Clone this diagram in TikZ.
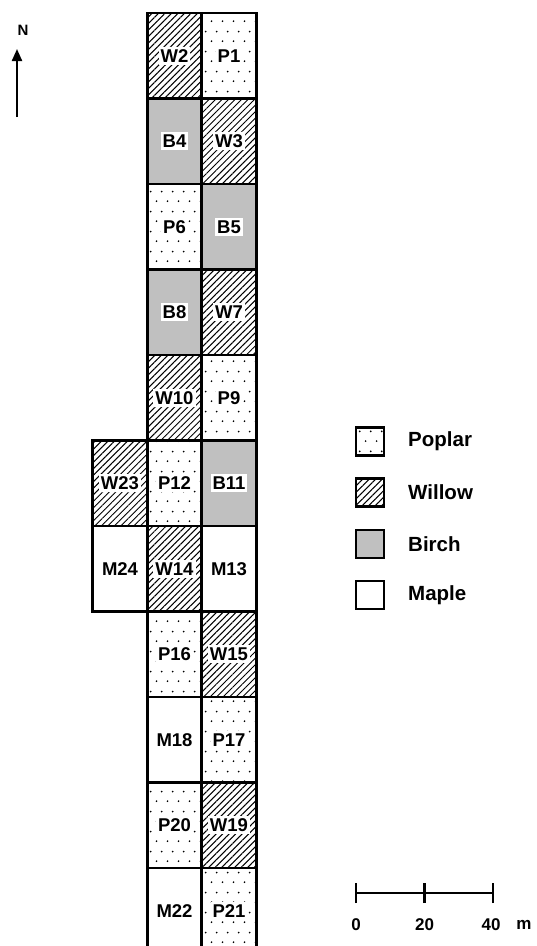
\documentclass[tikz,border=0pt]{standalone}
\usepackage{fontspec}
\setmainfont{Liberation Sans}
\usetikzlibrary{patterns.meta,arrows.meta}
\definecolor{birchgray}{RGB}{192,192,192}
\tikzdeclarepattern{
  name=poplardots,
  type=uncolored,
  bottom left={(0pt,0pt)},
  top right={(11pt,20pt)},
  tile size={(11pt,20pt)},
  code={
    \fill (2.75pt,5pt) circle (1pt);
    \fill (8.25pt,15pt) circle (1pt);
  }
}
\tikzset{
  plotcell/.style={draw=black, line width=2.8pt, minimum width=54.5pt, minimum height=85.5pt, inner sep=0pt, outer sep=0pt},
  poplar/.style={plotcell, pattern=poplardots, pattern color=black},
  willow/.style={plotcell, pattern={Lines[angle=45, distance=4.6pt, line width=1pt]}, pattern color=black},
  birch/.style={plotcell, fill=birchgray},
  maple/.style={plotcell, fill=white},
  lab/.style={fill=white, inner xsep=2pt, inner ysep=2.5pt, font=\bfseries\fontsize{18.5}{18.5}\selectfont},
  legbox/.style={draw=black, line width=2.6pt, minimum width=28pt, minimum height=28pt, inner sep=0pt},
  legtext/.style={anchor=west, inner sep=0pt, font=\bfseries\fontsize{20.5}{20.5}\selectfont},
  scaletext/.style={inner sep=0pt, font=\bfseries\fontsize{17}{17}\selectfont},
  bar/.style={line width=2.6pt},
}
\newcommand\plotcell[4]{%
  \node[#1] (#4) at (#2,{13+85.5*(#3-0.5)}) {};
  \node[lab] (#4-lab) at (#4.center) {#4};}
\begin{document}
\begin{tikzpicture}[x=1pt,y=-1pt]
\useasboundingbox (0,0) rectangle (536,946);
% columns: extra 120, L 174.5, R 229
\plotcell{willow}{174.5}{1}{W2}
\plotcell{poplar}{229}{1}{P1}
\plotcell{birch}{174.5}{2}{B4}
\plotcell{willow}{229}{2}{W3}
\plotcell{poplar}{174.5}{3}{P6}
\plotcell{birch}{229}{3}{B5}
\plotcell{birch}{174.5}{4}{B8}
\plotcell{willow}{229}{4}{W7}
\plotcell{willow}{174.5}{5}{W10}
\plotcell{poplar}{229}{5}{P9}
\plotcell{willow}{120}{6}{W23}
\plotcell{poplar}{174.5}{6}{P12}
\plotcell{birch}{229}{6}{B11}
\plotcell{maple}{120}{7}{M24}
\plotcell{willow}{174.5}{7}{W14}
\plotcell{maple}{229}{7}{M13}
\plotcell{poplar}{174.5}{8}{P16}
\plotcell{willow}{229}{8}{W15}
\plotcell{maple}{174.5}{9}{M18}
\plotcell{poplar}{229}{9}{P17}
\plotcell{poplar}{174.5}{10}{P20}
\plotcell{willow}{229}{10}{W19}
\plotcell{maple}{174.5}{11}{M22}
\plotcell{poplar}{229}{11}{P21}
% north arrow
\node[inner sep=0pt, font=\bfseries\fontsize{15}{15}\selectfont] (north) at (23,30) {N};
\coordinate (nbase) at (17,117);
\coordinate (ntip) at (17,49);
\draw[line width=2.2pt, -{Triangle[length=12pt,width=10pt]}] (nbase) -- (ntip);
% legend
\node[legbox, pattern=poplardots, pattern color=black] (lp) at (370,441.5) {};
\node[legtext] (lpt) at (408,441.5) {Poplar};
\node[legbox, pattern={Lines[angle=45, distance=4.6pt, line width=1pt]}] (lw) at (370,492.5) {};
\node[legtext] (lwt) at (408,492.5) {Willow};
\node[legbox, fill=birchgray] (lb) at (370,544) {};
\node[legtext] (lbt) at (408,544) {Birch};
\node[legbox, fill=white] (lm) at (370,595) {};
\node[legtext] (lmt) at (408,595) {Maple};
% scale bar
\coordinate (s0) at (356,893);
\coordinate (s20) at (424.5,893);
\coordinate (s40) at (493,893);
\draw[bar] (s0) -- (s40);
\draw[bar] ([yshift=-10pt]s0) -- ([yshift=10pt]s0);
\draw[bar] ([yshift=-10pt]s20) -- ([yshift=10pt]s20);
\draw[bar] ([yshift=-10pt]s40) -- ([yshift=10pt]s40);
\node[scaletext] (t0) at (356,925) {0};
\node[scaletext] (t20) at (424.5,925) {20};
\node[scaletext] (t40) at (491,925) {40};
\node[scaletext] (tm) at (524,925) {m};
\end{tikzpicture}
\end{document}
